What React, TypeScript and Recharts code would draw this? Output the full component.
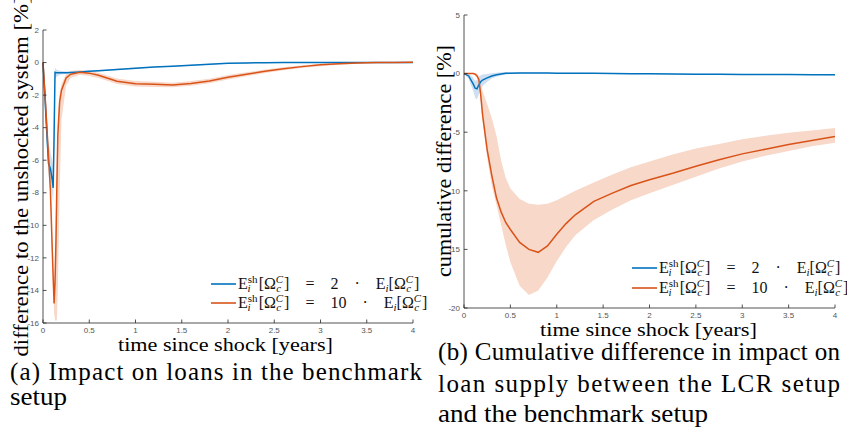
import React from "react";
import { ComposedChart, Line, Area, XAxis, YAxis, Legend } from "recharts";

// ---- shared ticks / labels ----
const X_TICKS = [0, 0.5, 1, 1.5, 2, 2.5, 3, 3.5, 4];
const LEFT_Y_TICKS = [-16, -14, -12, -10, -8, -6, -4, -2, 0, 2];
const RIGHT_Y_TICKS = [-20, -15, -10, -5, 0, 5];
const FACTORS = ["2", "10"];

const X_LABEL = "time since shock [years]";
const LEFT_Y_LABEL = "difference to the unshocked system [%]";
const RIGHT_Y_LABEL = "cumulative difference [%]";

// ---- (a) impact on loans ----
const leftTime = [0, 0.02, 0.04, 0.06, 0.08, 0.1, 0.11, 0.12, 0.13, 0.14, 0.15, 0.16, 0.18, 0.2, 0.25, 0.3, 0.4, 0.5, 0.6, 0.8, 1.0, 1.2, 1.4, 1.6, 1.8, 2.0, 2.2, 2.4, 2.6, 2.8, 3.0, 3.2, 3.4, 3.6, 3.8, 4.0];
const leftBlue = [0, -2.0, -4.2, -6.2, -6.5, -7.2, -7.7, -4.5, -0.6, -0.62, -0.62, -0.62, -0.62, -0.62, -0.62, -0.61, -0.58, -0.54, -0.5, -0.42, -0.35, -0.28, -0.22, -0.16, -0.1, -0.05, -0.02, -0.01, 0, 0, 0, 0, 0, 0, 0, 0];
const leftBlueLo = [0, -2.6, -5.0, -7.0, -7.4, -8.1, -8.6, -6.0, -1.0, -0.92, -0.87, -0.82, -0.77, -0.72, -0.7, -0.68, -0.63, -0.59, -0.55, -0.46, -0.39, -0.31, -0.25, -0.19, -0.13, -0.07, -0.04, -0.03, -0.02, -0.02, -0.02, -0.02, -0.02, -0.02, -0.02, -0.02];
const leftBlueHi = [0, -1.2, -3.0, -5.0, -5.5, -6.0, -6.5, -2.5, -0.35, -0.4, -0.45, -0.48, -0.5, -0.52, -0.55, -0.56, -0.53, -0.49, -0.45, -0.38, -0.31, -0.25, -0.19, -0.13, -0.07, -0.03, 0, 0.01, 0.02, 0.02, 0.02, 0.02, 0.02, 0.02, 0.02, 0.02];
const leftRed = [0, -1.8, -3.8, -5.8, -7.8, -11.5, -13.2, -14.8, -13.5, -11.0, -7.5, -4.5, -2.4, -1.7, -0.95, -0.72, -0.6, -0.65, -0.78, -1.15, -1.3, -1.34, -1.38, -1.28, -1.13, -0.9, -0.72, -0.53, -0.38, -0.25, -0.14, -0.07, -0.03, 0, 0, 0.02];
const leftRedLo = [0, -2.2, -4.3, -6.3, -8.4, -12.2, -14.0, -15.4, -15.8, -15.9, -15.8, -14.0, -8.0, -3.5, -1.4, -0.95, -0.75, -0.82, -0.95, -1.32, -1.47, -1.5, -1.52, -1.42, -1.27, -1.04, -0.84, -0.64, -0.48, -0.34, -0.22, -0.13, -0.08, -0.04, -0.03, -0.01];
const leftRedHi = [0, -1.4, -3.3, -5.3, -7.2, -10.8, -12.4, -14.0, -12.5, -9.5, -6.0, -3.5, -1.9, -1.3, -0.7, -0.5, -0.45, -0.5, -0.62, -0.98, -1.13, -1.18, -1.24, -1.14, -1.0, -0.77, -0.6, -0.43, -0.29, -0.17, -0.07, -0.02, 0.01, 0.04, 0.04, 0.05];

// ---- (b) cumulative difference ----
const rightTime = [0, 0.05, 0.1, 0.12, 0.14, 0.16, 0.18, 0.2, 0.25, 0.3, 0.35, 0.4, 0.45, 0.5, 0.6, 0.7, 0.8, 0.9, 1.0, 1.1, 1.2, 1.4, 1.6, 1.8, 2.0, 2.25, 2.5, 2.75, 3.0, 3.25, 3.5, 3.75, 4.0];
const rightBlue = [0, -0.2, -0.9, -1.25, -1.3, -0.95, -0.7, -0.55, -0.37, -0.2, -0.1, -0.03, 0.02, 0.04, 0.05, 0.05, 0.05, 0.05, 0.04, 0.04, 0.03, 0.02, 0, -0.01, -0.02, -0.03, -0.05, -0.06, -0.07, -0.08, -0.08, -0.09, -0.1];
const rightBlueLo = [0, -0.45, -1.5, -2.05, -2.2, -1.75, -1.35, -1.05, -0.7, -0.42, -0.26, -0.16, -0.08, -0.04, -0.01, 0.01, 0.01, 0.01, 0, 0, -0.01, -0.02, -0.04, -0.05, -0.06, -0.07, -0.09, -0.1, -0.11, -0.12, -0.12, -0.13, -0.14];
const rightBlueHi = [0, 0, -0.35, -0.6, -0.55, -0.3, -0.15, -0.08, -0.03, 0.04, 0.08, 0.11, 0.13, 0.12, 0.11, 0.09, 0.09, 0.09, 0.08, 0.08, 0.07, 0.06, 0.04, 0.03, 0.02, 0.01, -0.01, -0.02, -0.03, -0.04, -0.04, -0.05, -0.06];
const rightRed = [0, 0, 0, -0.05, -0.2, -0.5, -1.8, -3.5, -6.5, -8.7, -10.6, -11.8, -12.7, -13.3, -14.4, -15.0, -15.25, -14.7, -13.7, -12.8, -12.05, -10.9, -10.2, -9.55, -9.05, -8.5, -7.9, -7.35, -6.85, -6.45, -6.05, -5.7, -5.36];
const rightRedLo = [0, 0, 0, -0.1, -0.3, -0.8, -2.2, -4.0, -7.2, -9.6, -11.2, -12.9, -14.6, -16.1, -18.1, -18.9, -18.5, -17.4, -16.0, -14.8, -13.8, -12.5, -11.6, -10.8, -10.2, -9.5, -8.8, -8.1, -7.5, -7.0, -6.6, -6.2, -5.9];
const rightRedHi = [0, 0, 0, 0, 0, -0.2, -0.8, -1.5, -2.6, -3.8, -5.3, -7.4, -8.9, -9.8, -10.7, -11.1, -11.2, -11.1, -10.8, -10.4, -10.0, -9.3, -8.6, -8.0, -7.5, -6.9, -6.4, -6.0, -5.6, -5.3, -5.05, -4.85, -4.64];

const leftData = leftTime.map((t, i) => ({
  t,
  blue: leftBlue[i],
  red: leftRed[i],
  blueBand: [leftBlueLo[i], leftBlueHi[i]],
  redBand: [leftRedLo[i], leftRedHi[i]],
}));

const rightData = rightTime.map((t, i) => ({
  t,
  blue: rightBlue[i],
  red: rightRed[i],
  blueBand: [rightBlueLo[i], rightBlueHi[i]],
  redBand: [rightRedLo[i], rightRedHi[i]],
}));

const BLUE = "#0072BD";
const RED = "#D95319";
const BLUE_BAND = "#c9dcf0";
const RED_BAND = "#f7d8c9";
const AXIS = "#262626";
const TICK_FONT = "Liberation Sans, Arial, sans-serif";
const SERIF = "Liberation Serif, DejaVu Serif, serif";

const YTick = (props: any) => {
  const { x, y, payload } = props;
  return (
    <g>
      <line x1={x + 4} x2={x + 7.5} y1={y} y2={y} stroke={AXIS} strokeWidth={0.8} />
      <text x={x} y={y} dy="0.34em" textAnchor="end" fontSize={8} fill="#555" fontFamily={TICK_FONT}>
        {payload.value}
      </text>
    </g>
  );
};

const XTick = (props: any) => {
  const { x, y, payload } = props;
  return (
    <g>
      <line x1={x} x2={x} y1={y - 4} y2={y - 7.5} stroke={AXIS} strokeWidth={0.8} />
      <text x={x} y={y} dy="0.72em" textAnchor="middle" fontSize={8} fill="#555" fontFamily={TICK_FONT}>
        {payload.value}
      </text>
    </g>
  );
};

// E_i^sh[Ω_c^C] = k · E_i[Ω_c^C]
const MathLabel = ({ k, x, y }: { k: string; x: number; y: number }) => (
  <text x={x} y={y} fontSize={16} fontFamily={SERIF} fill="#111">
    <tspan>E</tspan>
    <tspan fontSize={11} dy={-6}>sh</tspan>
    <tspan fontSize={11} fontStyle="italic" dx={-10} dy={9}>i</tspan>
    <tspan dx={8} dy={-3}>{"[Ω"}</tspan>
    <tspan fontSize={11} fontStyle="italic" dy={-6}>C</tspan>
    <tspan fontSize={11} fontStyle="italic" dx={-7} dy={9}>c</tspan>
    <tspan dx={3} dy={-3}>{`]\u2003=\u2003${k}\u2003·\u2003E`}</tspan>
    <tspan fontSize={11} fontStyle="italic" dy={3}>i</tspan>
    <tspan dy={-3}>{"[Ω"}</tspan>
    <tspan fontSize={11} fontStyle="italic" dy={-6}>C</tspan>
    <tspan fontSize={11} fontStyle="italic" dx={-7} dy={9}>c</tspan>
    <tspan dx={3} dy={-3}>]</tspan>
  </text>
);

const MathLegend = ({ payload, gap }: any) => {
  const entries = FACTORS.map((f) => (payload || []).find((e: any) => e.value === f)).filter(Boolean);
  return (
    <svg width={230} height={48} style={{ overflow: "visible" }}>
      {entries.map((entry: any, i: number) => (
        <g key={entry.value}>
          <line x1={6} x2={31} y1={12 + i * gap} y2={12 + i * gap} stroke={entry.color} strokeWidth={1.6} />
          <MathLabel k={entry.value} x={33} y={17 + i * gap} />
        </g>
      ))}
    </svg>
  );
};

const series = () => [
  <Area key="rb" dataKey="redBand" type="linear" stroke="none" fill={RED_BAND} fillOpacity={1} legendType="none" isAnimationActive={false} activeDot={false} />,
  <Area key="bb" dataKey="blueBand" type="linear" stroke="none" fill={BLUE_BAND} fillOpacity={0.9} legendType="none" isAnimationActive={false} activeDot={false} />,
  <Line key="bl" dataKey="blue" name={FACTORS[0]} type="linear" stroke={BLUE} strokeWidth={1.5} dot={false} isAnimationActive={false} />,
  <Line key="rl" dataKey="red" name={FACTORS[1]} type="linear" stroke={RED} strokeWidth={1.5} dot={false} isAnimationActive={false} />,
];

export default function App() {
  return (
    <div style={{ position: "fixed", left: 0, top: 0, width: 847, height: 432, background: "#fff", overflow: "hidden" }}>
      {/* (a) impact on loans */}
      <div style={{ position: "absolute", left: 0, top: 0 }}>
        <ComposedChart width={430} height={340} data={leftData} margin={{ top: 30, right: 17, bottom: 0, left: 0 }}>
          <XAxis dataKey="t" type="number" domain={[0, 4]} ticks={X_TICKS} height={17} tickSize={0} tickMargin={4} tick={<XTick />} axisLine={{ stroke: AXIS, strokeWidth: 0.8 }} />
          <YAxis type="number" domain={[-16, 2]} ticks={LEFT_Y_TICKS} width={43} tickSize={0} tickMargin={4} tick={<YTick />} axisLine={{ stroke: AXIS, strokeWidth: 0.8 }} allowDataOverflow />
          {series()}
          <Legend layout="vertical" align="center" verticalAlign="middle" wrapperStyle={{ left: 205, top: 272, width: 230, height: 48 }} content={(p: any) => <MathLegend payload={p.payload} gap={19} />} />
        </ComposedChart>
      </div>

      {/* (b) cumulative difference */}
      <div style={{ position: "absolute", left: 420, top: 0 }}>
        <ComposedChart width={427} height={325} data={rightData} margin={{ top: 15, right: 12, bottom: 0, left: 0 }}>
          <XAxis dataKey="t" type="number" domain={[0, 4]} ticks={X_TICKS} height={17} tickSize={0} tickMargin={4} tick={<XTick />} axisLine={{ stroke: AXIS, strokeWidth: 0.8 }} />
          <YAxis type="number" domain={[-20, 5]} ticks={RIGHT_Y_TICKS} width={44} tickSize={0} tickMargin={4} tick={<YTick />} axisLine={{ stroke: AXIS, strokeWidth: 0.8 }} allowDataOverflow />
          {series()}
          <Legend layout="vertical" align="center" verticalAlign="middle" wrapperStyle={{ left: 206, top: 256, width: 230, height: 48 }} content={(p: any) => <MathLegend payload={p.payload} gap={20} />} />
        </ComposedChart>
      </div>

      {/* axis titles and captions */}
      <svg width={847} height={432} style={{ position: "absolute", left: 0, top: 0, pointerEvents: "none" }}>
        <text x={118} y={351} fontFamily={SERIF} fontSize={18} textLength={215} lengthAdjust="spacingAndGlyphs">{X_LABEL}</text>
        <text x={540} y={336} fontFamily={SERIF} fontSize={18} textLength={217} lengthAdjust="spacingAndGlyphs">{X_LABEL}</text>
        <text transform="translate(28,176.5) rotate(-90)" textAnchor="middle" fontFamily={SERIF} fontSize={22} textLength={360} lengthAdjust="spacingAndGlyphs">{LEFT_Y_LABEL}</text>
        <text transform="translate(451,161) rotate(-90)" textAnchor="middle" fontFamily={SERIF} fontSize={22} textLength={232} lengthAdjust="spacingAndGlyphs">{RIGHT_Y_LABEL}</text>

        <text x={10} y={380} fontFamily={SERIF} fontSize={25} textLength={412} lengthAdjust="spacing">(a) Impact on loans in the benchmark</text>
        <text x={10} y={405} fontFamily={SERIF} fontSize={25} textLength={57} lengthAdjust="spacingAndGlyphs">setup</text>

        <text x={438} y={360} fontFamily={SERIF} fontSize={25} textLength={402} lengthAdjust="spacing">(b) Cumulative difference in impact on</text>
        <text x={438} y={392} fontFamily={SERIF} fontSize={25} textLength={402} lengthAdjust="spacing">loan supply between the LCR setup</text>
        <text x={438} y={422} fontFamily={SERIF} fontSize={25} textLength={270} lengthAdjust="spacingAndGlyphs">and the benchmark setup</text>
      </svg>
    </div>
  );
}
